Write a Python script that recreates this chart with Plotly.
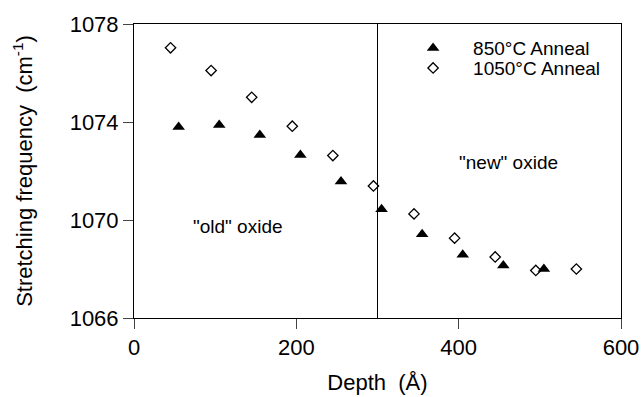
import plotly.graph_objects as go

depth_850 = [55, 105, 155, 205, 255, 305, 355, 405, 455, 505]
freq_850 = [1073.8, 1073.88, 1073.47, 1072.65, 1071.57, 1070.44, 1069.42, 1068.58, 1068.14, 1068.0]
depth_1050 = [45, 95, 145, 195, 245, 295, 345, 395, 445, 495, 545]
freq_1050 = [1077.03, 1076.1, 1075.01, 1073.83, 1072.63, 1071.39, 1070.25, 1069.26, 1068.49, 1067.94, 1068.0]
boundary_depth = 300
x_ticks = [0, 200, 400, 600]
y_ticks = [1066, 1070, 1074, 1078]

FONT = "Liberation Sans, Arial, sans-serif"

fig = go.Figure()
fig.add_trace(go.Scatter(
    x=depth_850, y=freq_850, mode="markers", name="850°C Anneal", legend="legend",
    marker=dict(symbol="triangle-up", size=11, color="black", line=dict(width=0)),
))
fig.add_trace(go.Scatter(
    x=depth_1050, y=freq_1050, mode="markers", name="1050°C Anneal", legend="legend2",
    marker=dict(symbol="diamond-open", size=8, color="black", line=dict(width=1.3, color="black")),
))

fig.add_shape(type="line", x0=boundary_depth, x1=boundary_depth, y0=y_ticks[0], y1=y_ticks[-1],
              xref="x", yref="y", line=dict(color="black", width=1))

fig.add_annotation(x=128, y=1069.72, text='"old" oxide', showarrow=False,
                   font=dict(size=19, color="black", family=FONT))
fig.add_annotation(x=462, y=1072.33, text='"new" oxide', showarrow=False,
                   font=dict(size=19, color="black", family=FONT))

leg_common = dict(xanchor="left", yanchor="middle", bgcolor="rgba(0,0,0,0)",
                  font=dict(size=19, family=FONT, color="black"), itemwidth=70)

fig.update_layout(
    width=642, height=397,
    margin=dict(l=134, r=21, t=24, b=79),
    paper_bgcolor="white", plot_bgcolor="white",
    font=dict(family=FONT, color="black", size=22),
    showlegend=True,
    legend=dict(x=0.532, y=0.918, **leg_common),
    legend2=dict(x=0.532, y=0.850, **leg_common),
)
fig.update_xaxes(
    range=[0, 600], tickvals=x_ticks, ticks="outside", ticklen=10, tickwidth=1,
    showline=True, linecolor="black", linewidth=1, mirror=True, showgrid=False, zeroline=False,
    tickfont=dict(size=22), automargin=False,
    title=dict(text="Depth\u00a0\u00a0(Å)", font=dict(size=22), standoff=15),
)
fig.update_yaxes(
    range=[1066, 1078], tickvals=y_ticks, ticks="outside", ticklen=10, tickwidth=1,
    showline=True, linecolor="black", linewidth=1, mirror=True, showgrid=False, zeroline=False,
    tickfont=dict(size=22), automargin=False,
    title=dict(text="Stretching frequency\u00a0\u00a0(cm<sup>-1</sup>)", font=dict(size=22), standoff=30),
)

fig.write_html("out.html")
